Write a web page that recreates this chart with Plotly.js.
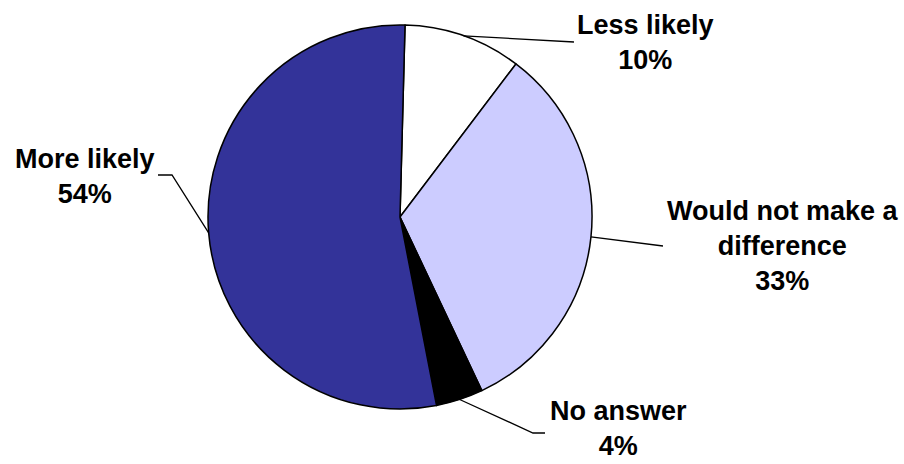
<!DOCTYPE html>
<html>
<head>
<meta charset="utf-8">
<script src="https://cdn.plot.ly/plotly-3.0.1.min.js"></script>
<style>html,body{margin:0;padding:0;background:#fff;}#chart{width:904px;height:464px;}</style>
</head>
<body>
<div id="chart"></div>
<script>
// ---- data ----
const categories = ['Less likely', 'Would not make a difference', 'No answer', 'More likely'];
const displayLabels = ['Less likely', 'Would not make a<br>difference', 'No answer', 'More likely'];
const percents = [10, 33, 4, 54];
const colors = ['#FFFFFF', '#CCCCFF', '#000000', '#333399'];

// ---- layout geometry (pixels) ----
const W = 904, H = 464;
const cx = 400, cy = 217, R = 192;
const startAngle = 1.5; // degrees clockwise from 12 o'clock
// label block centres and leader-line bends (layout, not data)
const labelPos = [[645, 42], [783, 246], [618, 428], [85, 176]];
const leaderBends = [
  [[574, 42]],
  [[663, 246]],
  [[533, 433], [545, 433]],
  [[172, 175], [158, 175]]
];

const px = x => x / W;
const py = y => 1 - y / H;

const total = percents.reduce((a, b) => a + b, 0);
let acc = startAngle;
const shapes = [];
const annotations = [];
percents.forEach((v, i) => {
  const span = v / total * 360;
  const mid = (acc + span / 2) * Math.PI / 180;
  acc += span;
  const sx = cx + R * Math.sin(mid), sy = cy - R * Math.cos(mid);
  let path = `M ${px(sx)} ${py(sy)}`;
  leaderBends[i].forEach(p => { path += ` L ${px(p[0])} ${py(p[1])}`; });
  shapes.push({type: 'path', xref: 'paper', yref: 'paper', path: path,
               line: {color: '#000000', width: 1.3}});
  annotations.push({xref: 'paper', yref: 'paper', x: px(labelPos[i][0]), y: py(labelPos[i][1]),
    xanchor: 'center', yanchor: 'middle', showarrow: false, align: 'center', borderpad: 0,
    text: '<b>' + displayLabels[i] + '<br>' + v + '%</b>',
    font: {family: 'Liberation Sans, Arial, sans-serif', size: 27, color: '#000000'}});
});

const trace = {
  type: 'pie',
  labels: categories,
  values: percents,
  sort: false,
  direction: 'clockwise',
  rotation: startAngle,
  textinfo: 'none',
  hoverinfo: 'label+percent',
  marker: {colors: colors, line: {color: '#000000', width: 1.5}},
  domain: {x: [px(cx - R), px(cx + R)], y: [py(cy + R), py(cy - R)]},
  automargin: false
};

const layout = {
  width: W, height: H,
  margin: {l: 0, r: 0, t: 0, b: 0},
  paper_bgcolor: '#FFFFFF',
  showlegend: false,
  shapes: shapes,
  annotations: annotations
};

Plotly.newPlot('chart', [trace], layout, {staticPlot: true, displayModeBar: false});
</script>
</body>
</html>
